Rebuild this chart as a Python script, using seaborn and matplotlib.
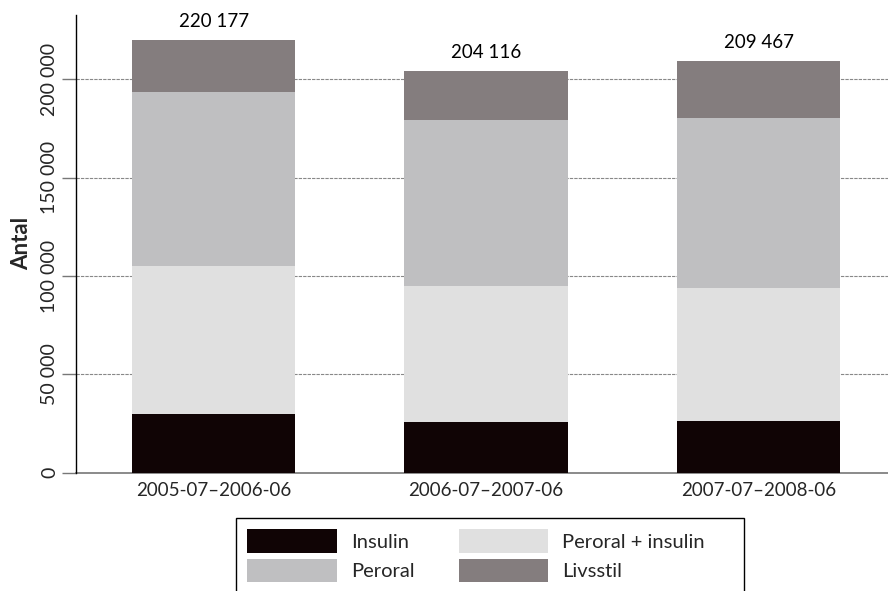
import matplotlib
matplotlib.use("Agg")
import matplotlib.pyplot as plt
import seaborn as sns
import pandas as pd
from matplotlib.patches import Patch, Rectangle

# Number of patients per treatment type and period
periods = ["2005-07–2006-06", "2006-07–2007-06", "2007-07–2008-06"]
insulin = [29700, 25800, 26400]
peroral_insulin = [75500, 69100, 67300]
peroral = [88500, 84300, 86600]
livsstil = [26477, 24916, 29167]
totals = [220177, 204116, 209467]
total_labels = ["220 177", "204 116", "209 467"]

series_names = ["Insulin", "Peroral + insulin", "Peroral", "Livsstil"]
series_values = [insulin, peroral_insulin, peroral, livsstil]
colors = ["#100405", "#e0e0e0", "#bfbfc1", "#847d7e"]

ytick_values = [0, 50000, 100000, 150000, 200000]
ytick_labels = ["0", "50 000", "100 000", "150 000", "200 000"]

sns.set_theme(style="white")
plt.rcParams["font.family"] = ["Lato", "DejaVu Sans"]

# Cumulative tops for stacking
rows = []
for i, p in enumerate(periods):
    cum = 0
    for name, vals in zip(series_names, series_values):
        cum += vals[i]
        rows.append({"period": p, "series": name, "top": cum})
df = pd.DataFrame(rows)

fig = plt.figure(figsize=(8.88, 5.91), dpi=100)
ax = fig.add_axes([76 / 888, 1 - 472.7 / 591, 1 - 76 / 888, (472.7 - 15) / 591])

# Draw from the tallest cumulative layer down so each layer shows its own band
for name, color in reversed(list(zip(series_names, colors))):
    sub = df[df["series"] == name]
    sns.barplot(data=sub, x="period", y="top", order=periods, color=color,
                width=0.6, saturation=1, linewidth=0, ax=ax, zorder=3)

# Totals above each bar
for i, (t, lab) in enumerate(zip(totals, total_labels)):
    ax.annotate(lab, xy=(i, t), xytext=(0, 7), textcoords="offset points",
                ha="center", va="bottom", fontsize=13.5, color="black")

ax.set_ylim(0, 232700)
ax.set_xlim(-0.505, 2.475)
ax.set_yticks(ytick_values)
ax.set_yticklabels(ytick_labels, rotation=90, va="center", fontsize=14)
ax.tick_params(axis="y", length=10, width=1, color="#777777", pad=3, left=True)
ax.tick_params(axis="x", length=0, pad=7, labelsize=13.5)
ax.set_xlabel("")
ax.set_ylabel("Antal", fontsize=16, fontweight="bold", labelpad=6)

# Dotted horizontal guides behind the bars
for v in ytick_values[1:]:
    ax.axhline(v, color="#888888", linewidth=0.8, linestyle=(0, (3, 1)), zorder=1)

for s in ["top", "right"]:
    ax.spines[s].set_visible(False)
ax.spines["left"].set_color("black")
ax.spines["left"].set_linewidth(1.0)
ax.spines["bottom"].set_color("#777777")
ax.spines["bottom"].set_linewidth(1.2)
ax.spines["left"].set_zorder(4)

handles = [Patch(facecolor=c, edgecolor="none") for c in colors]
order = [0, 2, 1, 3]
leg_left, leg_top, leg_right = 236 / 888, 1 - 518.3 / 591, 744 / 888
leg = fig.legend([handles[k] for k in order], [series_names[k] for k in order],
                 loc="upper left", bbox_to_anchor=(leg_left, leg_top),
                 ncol=2, frameon=False, fontsize=14.5,
                 handlelength=4.45, handleheight=1.4, handletextpad=0.7,
                 columnspacing=2.2, labelspacing=0.3, borderpad=0.55,
                 borderaxespad=0)

# Legend box, running off the bottom edge of the figure
fig.patches.append(Rectangle((leg_left, -0.05), leg_right - leg_left, leg_top + 0.05,
                             transform=fig.transFigure, facecolor="none",
                             edgecolor="black", linewidth=1.0))

fig.savefig("out.png", dpi=100)
